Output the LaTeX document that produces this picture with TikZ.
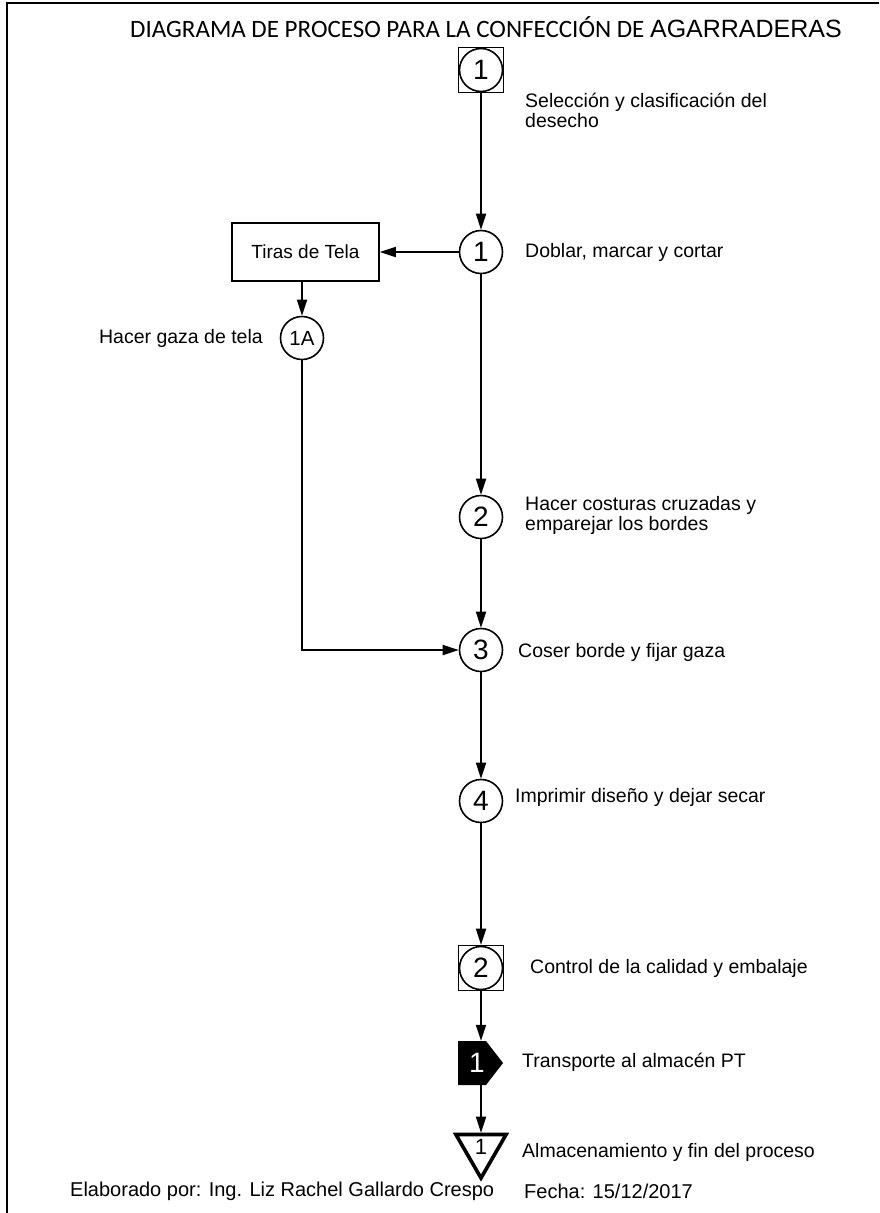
\documentclass[tikz,border=0pt]{standalone}
\usepackage{fontspec}
\setmainfont{Liberation Sans}
\newfontfamily\titlefont{Carlito}
\usetikzlibrary{arrows.meta,shapes.geometric}
\tikzset{
  flow/.style={line width=1.8pt,-{Triangle[length=16pt,width=10pt]}},
  opcirc/.style={circle,draw,line width=1.6pt,minimum size=43pt,inner sep=0pt,font=\fontsize{28}{30}\selectfont},
  inspbox/.style={rectangle,draw,line width=1.6pt,minimum size=45pt,inner sep=0pt},
  lbl/.style={anchor=west,align=left,inner sep=0pt,font=\fontsize{19.5}{20}\selectfont},
}
\begin{document}
\begin{tikzpicture}[x=1pt,y=-1pt]
\useasboundingbox (0,0) rectangle (879,1213);
\fill[white] (0,0) rectangle (879,1213);
\draw[line width=1.8pt] (7,1213) -- (7,3) -- (879,3);
% title
\node[anchor=west,inner sep=0pt] (title) at (130,27) {\titlefont\fontsize{25}{28}\selectfont DIAGRAMA DE PROCESO PARA LA CONFECCI\'ON DE {\rmfamily\fontsize{25}{28}\selectfont AGARRADERAS}};
% inspection 1
\node[inspbox] (i1) at (481,70) {};
\node[opcirc] (i1c) at (481,70) {1};
\node[lbl] (ti1) at (525,110) {Selecci\'on y clasificaci\'on del\\desecho};
% operation 1
\node[opcirc] (o1) at (481,252) {1};
\node[lbl] (to1) at (525,252) {Doblar, marcar y cortar};
% tiras
\node[rectangle,draw,line width=1.6pt,minimum width=147pt,minimum height=58pt,font=\fontsize{19}{20}\selectfont] (tiras) at (305.5,252) {Tiras de Tela};
% 1A
\node[opcirc,font=\fontsize{20.5}{22}\selectfont] (o1a) at (302,338) {1A};
\node[anchor=east,inner sep=0pt,font=\fontsize{19.5}{20}\selectfont] (to1a) at (263,338) {Hacer gaza de tela};
% operation 2
\node[opcirc] (o2) at (481,517) {2};
\node[lbl] (to2) at (525,515) {Hacer costuras cruzadas y\\emparejar los bordes};
% operation 3
\node[opcirc] (o3) at (481,650) {3};
\node[lbl] (to3) at (518,652) {Coser borde y fijar gaza};
% operation 4
\node[opcirc] (o4) at (481,801) {4};
\node[lbl] (to4) at (515,797) {Imprimir dise\~no y dejar secar};
% inspection 2
\node[inspbox] (i2) at (481,968) {};
\node[opcirc] (i2c) at (481,968) {2};
\node[lbl] (ti2) at (530,968) {Control de la calidad y embalaje};
% transport
\fill (458,1041) -- (486,1041) -- (503,1063) -- (486,1085) -- (458,1085) -- cycle;
\node[minimum width=45pt,minimum height=44pt,inner sep=0pt,text=white,font=\fontsize{28}{30}\selectfont] (tr) at (477,1063) {1};
\node[lbl] (ttr) at (522,1062) {Transporte al almac\'en PT};
% storage
\node[regular polygon,regular polygon sides=3,shape border rotate=180,draw,line width=3.6pt,minimum size=58pt,inner sep=0pt] (st) at (481,1149) {};
\node[font=\fontsize{22}{24}\selectfont,inner sep=0pt] (stn) at (481,1147) {1};
\node[lbl] (tst) at (522,1152) {Almacenamiento y fin del proceso};
% footer
\node[anchor=west,inner sep=0pt,font=\fontsize{20}{22}\selectfont] (f1) at (70,1191) {Elaborado por: Ing. Liz Rachel Gallardo Crespo};
\node[anchor=west,inner sep=0pt,font=\fontsize{20}{22}\selectfont] (f2) at (524,1191) {Fecha: 15/12/2017};
% connectors
\draw[flow] (i1.south) -- (o1.north);
\draw[flow] (o1.west) -- (tiras.east);
\draw[flow] (tiras.south -| o1a.north) -- (o1a.north);
\draw[flow] (o1.south) -- (o2.north);
\draw[flow] (o2.south) -- (o3.north);
\draw[flow] (o1a.south) |- (o3.west);
\draw[flow] (o3.south) -- (o4.north);
\draw[flow] (o4.south) -- (i2.north);
\draw[flow] (i2.south) -- (tr.north -| i2.south);
\draw[flow] (tr.south -| i2.south) -- (st.north);
\end{tikzpicture}
\end{document}
